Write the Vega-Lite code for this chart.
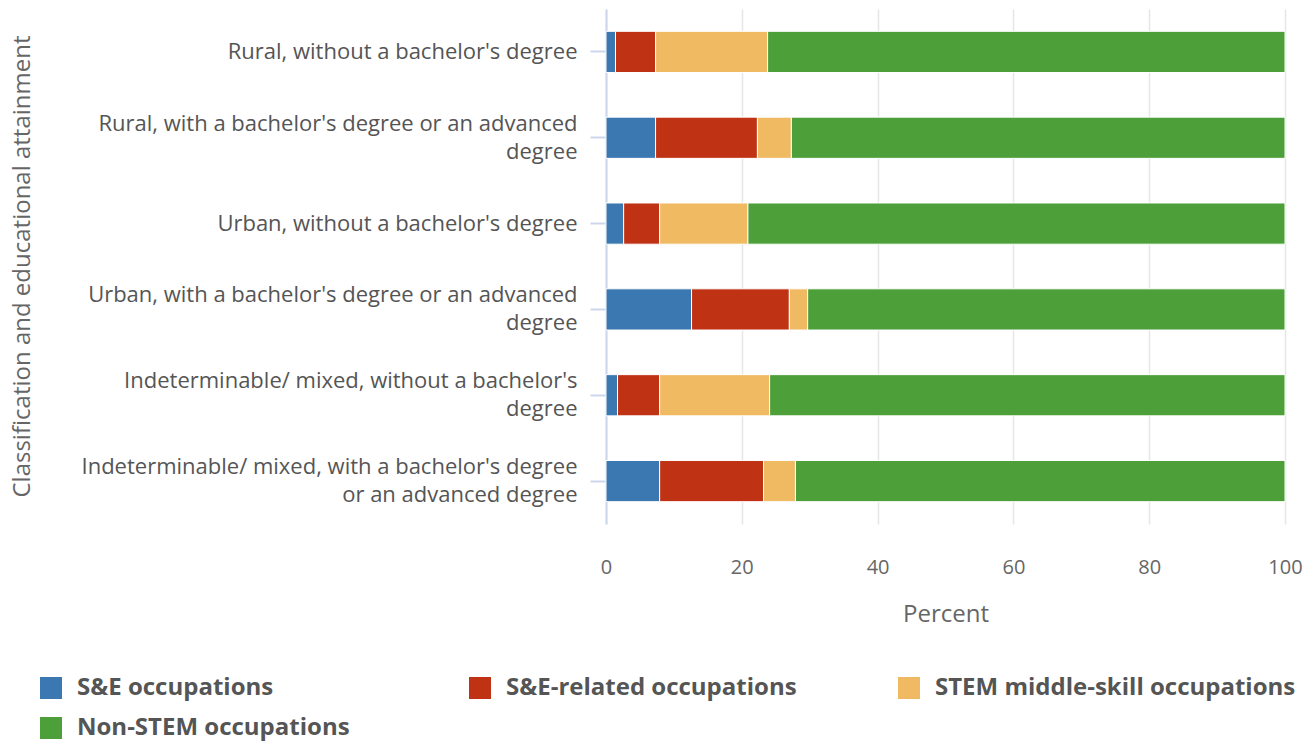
{
  "$schema": "https://vega.github.io/schema/vega-lite/v6.json",
  "width": 679,
  "height": 515,
  "autosize": "none",
  "padding": {"left": 606, "top": 9, "right": 31, "bottom": 220},
  "background": "white",
  "config": {
    "font": "Open Sans",
    "view": {"stroke": null}
  },
  "data": {
    "values": [
      {"category": "Rural, without a bachelor's degree", "occupation": "S&E occupations", "percent": 1.4},
      {"category": "Rural, without a bachelor's degree", "occupation": "S&E-related occupations", "percent": 5.9},
      {"category": "Rural, without a bachelor's degree", "occupation": "STEM middle-skill occupations", "percent": 16.5},
      {"category": "Rural, without a bachelor's degree", "occupation": "Non-STEM occupations", "percent": 76.2},
      {"category": "Rural, with a bachelor's degree or an advanced degree", "occupation": "S&E occupations", "percent": 7.3},
      {"category": "Rural, with a bachelor's degree or an advanced degree", "occupation": "S&E-related occupations", "percent": 15.0},
      {"category": "Rural, with a bachelor's degree or an advanced degree", "occupation": "STEM middle-skill occupations", "percent": 5.0},
      {"category": "Rural, with a bachelor's degree or an advanced degree", "occupation": "Non-STEM occupations", "percent": 72.7},
      {"category": "Urban, without a bachelor's degree", "occupation": "S&E occupations", "percent": 2.6},
      {"category": "Urban, without a bachelor's degree", "occupation": "S&E-related occupations", "percent": 5.3},
      {"category": "Urban, without a bachelor's degree", "occupation": "STEM middle-skill occupations", "percent": 13.0},
      {"category": "Urban, without a bachelor's degree", "occupation": "Non-STEM occupations", "percent": 79.1},
      {"category": "Urban, with a bachelor's degree or an advanced degree", "occupation": "S&E occupations", "percent": 12.6},
      {"category": "Urban, with a bachelor's degree or an advanced degree", "occupation": "S&E-related occupations", "percent": 14.4},
      {"category": "Urban, with a bachelor's degree or an advanced degree", "occupation": "STEM middle-skill occupations", "percent": 2.7},
      {"category": "Urban, with a bachelor's degree or an advanced degree", "occupation": "Non-STEM occupations", "percent": 70.3},
      {"category": "Indeterminable/ mixed, without a bachelor's degree", "occupation": "S&E occupations", "percent": 1.7},
      {"category": "Indeterminable/ mixed, without a bachelor's degree", "occupation": "S&E-related occupations", "percent": 6.2},
      {"category": "Indeterminable/ mixed, without a bachelor's degree", "occupation": "STEM middle-skill occupations", "percent": 16.2},
      {"category": "Indeterminable/ mixed, without a bachelor's degree", "occupation": "Non-STEM occupations", "percent": 75.9},
      {"category": "Indeterminable/ mixed, with a bachelor's degree or an advanced degree", "occupation": "S&E occupations", "percent": 7.9},
      {"category": "Indeterminable/ mixed, with a bachelor's degree or an advanced degree", "occupation": "S&E-related occupations", "percent": 15.3},
      {"category": "Indeterminable/ mixed, with a bachelor's degree or an advanced degree", "occupation": "STEM middle-skill occupations", "percent": 4.7},
      {"category": "Indeterminable/ mixed, with a bachelor's degree or an advanced degree", "occupation": "Non-STEM occupations", "percent": 72.1}
    ]
  },
  "transform": [
    {"calculate": "indexof(['S&E occupations', 'S&E-related occupations', 'STEM middle-skill occupations', 'Non-STEM occupations'], datum.occupation)", "as": "stackOrder"}
  ],
  "mark": {"type": "bar", "stroke": "white", "strokeWidth": 1},
  "encoding": {
    "y": {
      "field": "category",
      "type": "nominal",
      "sort": null,
      "scale": {"paddingInner": 0.52, "paddingOuter": 0.26},
      "axis": {
        "title": "Classification and educational attainment",
        "titleFontSize": 24,
        "titleFontWeight": "normal",
        "titleColor": "#666666",
        "titleX": -572,
        "titleY": 257,
        "titleAnchor": "middle",
        "labelFontSize": 22,
        "labelColor": "#555555",
        "labelLineHeight": 28,
        "labelLimit": 600,
        "labelPadding": 13,
        "labelOffset": {"condition": {"test": "indexof(datum.value, 'advanced') >= 0 || indexof(datum.value, 'mixed, without') >= 0", "value": -14}, "value": 0},
        "labelExpr": "datum.value == \"Rural, with a bachelor's degree or an advanced degree\" ? [\"Rural, with a bachelor's degree or an advanced\", \"degree\"] : datum.value == \"Urban, with a bachelor's degree or an advanced degree\" ? [\"Urban, with a bachelor's degree or an advanced\", \"degree\"] : datum.value == \"Indeterminable/ mixed, without a bachelor's degree\" ? [\"Indeterminable/ mixed, without a bachelor's\", \"degree\"] : datum.value == \"Indeterminable/ mixed, with a bachelor's degree or an advanced degree\" ? [\"Indeterminable/ mixed, with a bachelor's degree\", \"or an advanced degree\"] : datum.value",
        "domainColor": "#ccd6eb",
        "domainWidth": 2,
        "tickColor": "#ccd6eb",
        "tickWidth": 2,
        "tickSize": 16,
        "grid": false
      }
    },
    "x": {
      "field": "percent",
      "type": "quantitative",
      "stack": "zero",
      "scale": {"domain": [0, 100], "nice": false},
      "axis": {
        "title": "Percent",
        "titleFontSize": 24,
        "titleFontWeight": "normal",
        "titleColor": "#666666",
        "titlePadding": 25,
        "values": [0, 20, 40, 60, 80, 100],
        "labelFontSize": 20,
        "labelColor": "#666666",
        "labelPadding": 33,
        "labelFlush": false,
        "ticks": false,
        "domain": false,
        "grid": true,
        "gridColor": "#e6e6e6",
        "gridWidth": 1.5
      }
    },
    "order": {"field": "stackOrder", "type": "quantitative", "sort": "ascending"},
    "color": {
      "field": "occupation",
      "type": "nominal",
      "scale": {
        "domain": ["S&E occupations", "S&E-related occupations", "STEM middle-skill occupations", "Non-STEM occupations"],
        "range": ["#3b77b0", "#bf3214", "#f0ba63", "#4d9f39"]
      },
      "legend": {
        "title": null,
        "orient": "none",
        "legendX": -567,
        "legendY": 667,
        "direction": "horizontal",
        "columns": 3,
        "gridAlign": "all",
        "columnPadding": 30,
        "rowPadding": 16,
        "symbolType": "square",
        "symbolSize": 484,
        "symbolStrokeWidth": 0,
        "symbolOpacity": 1,
        "labelFontSize": 24,
        "labelFontWeight": "bold",
        "labelColor": "#555555",
        "labelOffset": 14,
        "labelLimit": 500
      }
    }
  }
}
